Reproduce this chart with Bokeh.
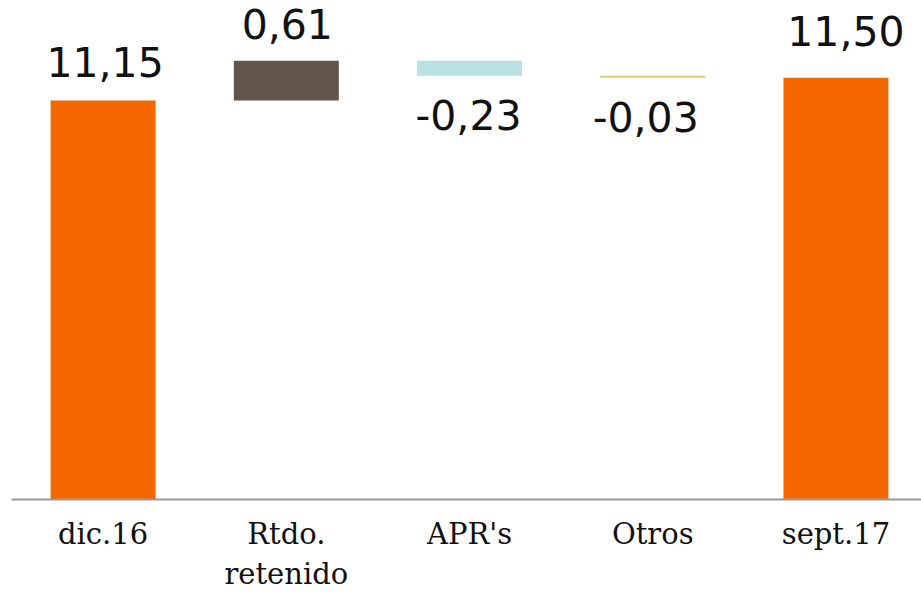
from bokeh.plotting import figure
from bokeh.models import Range1d, FixedTicker, ColumnDataSource
from bokeh.core.properties import value
from bokeh.embed import file_html
from bokeh.resources import INLINE

# ---- data ----
categories = ["dic.16", "Rtdo.\nretenido", "APR's", "Otros", "sept.17"]
values = [11.15, 0.61, -0.23, -0.03, 11.50]
kinds = ["total", "delta", "delta", "delta", "total"]
value_labels = ["11,15", "0,61", "-0,23", "-0,03", "11,50"]
colors = ["#F46600", "#625449", "#BAE0E3", "#DFCE6A", "#F46600"]

# ---- waterfall geometry from values ----
xs = list(range(len(categories)))
bottoms, tops = [], []
running = 0.0
for v, k in zip(values, kinds):
    if k == "total":
        bottoms.append(0.0)
        tops.append(v)
        running = v
    else:
        start = running
        running = running + v
        bottoms.append(min(start, running))
        tops.append(max(start, running))

up = [(v >= 0 or k == "total") for v, k in zip(values, kinds)]
label_y = [t if u else b for u, t, b in zip(up, tops, bottoms)]
label_baseline = ["alphabetic" if u else "top" for u in up]
label_yoff = [-38, -37, 24, 24, -47]
label_xoff = [2, 1, -1, -7, 10]

src = ColumnDataSource(dict(x=xs, bottom=bottoms, top=tops, color=colors))
lsrc = ColumnDataSource(dict(x=xs, y=label_y, text=value_labels, baseline=label_baseline,
                             yoff=label_yoff, xoff=label_xoff))

p = figure(width=921, height=594, output_backend="svg", toolbar_location=None,
           x_range=Range1d(-0.5, 4.467), y_range=Range1d(5.0, 12.69),
           min_border_left=11, min_border_right=0, min_border_top=0, min_border_bottom=0)

p.vbar(x="x", bottom="bottom", top="top", width=0.573, color="color", source=src,
       line_color=None)

p.text(x="x", y="y", text="text", source=lsrc, text_align="center",
       text_baseline="baseline", y_offset="yoff", x_offset="xoff",
       text_font=value("DejaVu Sans"), text_font_size="41px", text_color="#111111")

p.yaxis.visible = False
p.xgrid.visible = False
p.ygrid.visible = False
p.outline_line_color = None

ax = p.xaxis[0]
ax.ticker = FixedTicker(ticks=xs)
ax.major_label_overrides = {i: c for i, c in zip(xs, categories)}
ax.major_tick_line_color = None
ax.minor_tick_line_color = None
ax.axis_line_color = "#9A9A9A"
ax.axis_line_width = 2
ax.major_label_text_font = "DejaVu Serif"
ax.major_label_text_font_size = "29px"
ax.major_label_text_color = "#111111"
ax.major_label_standoff = 11

open("out.html", "w").write(file_html(p, INLINE))
